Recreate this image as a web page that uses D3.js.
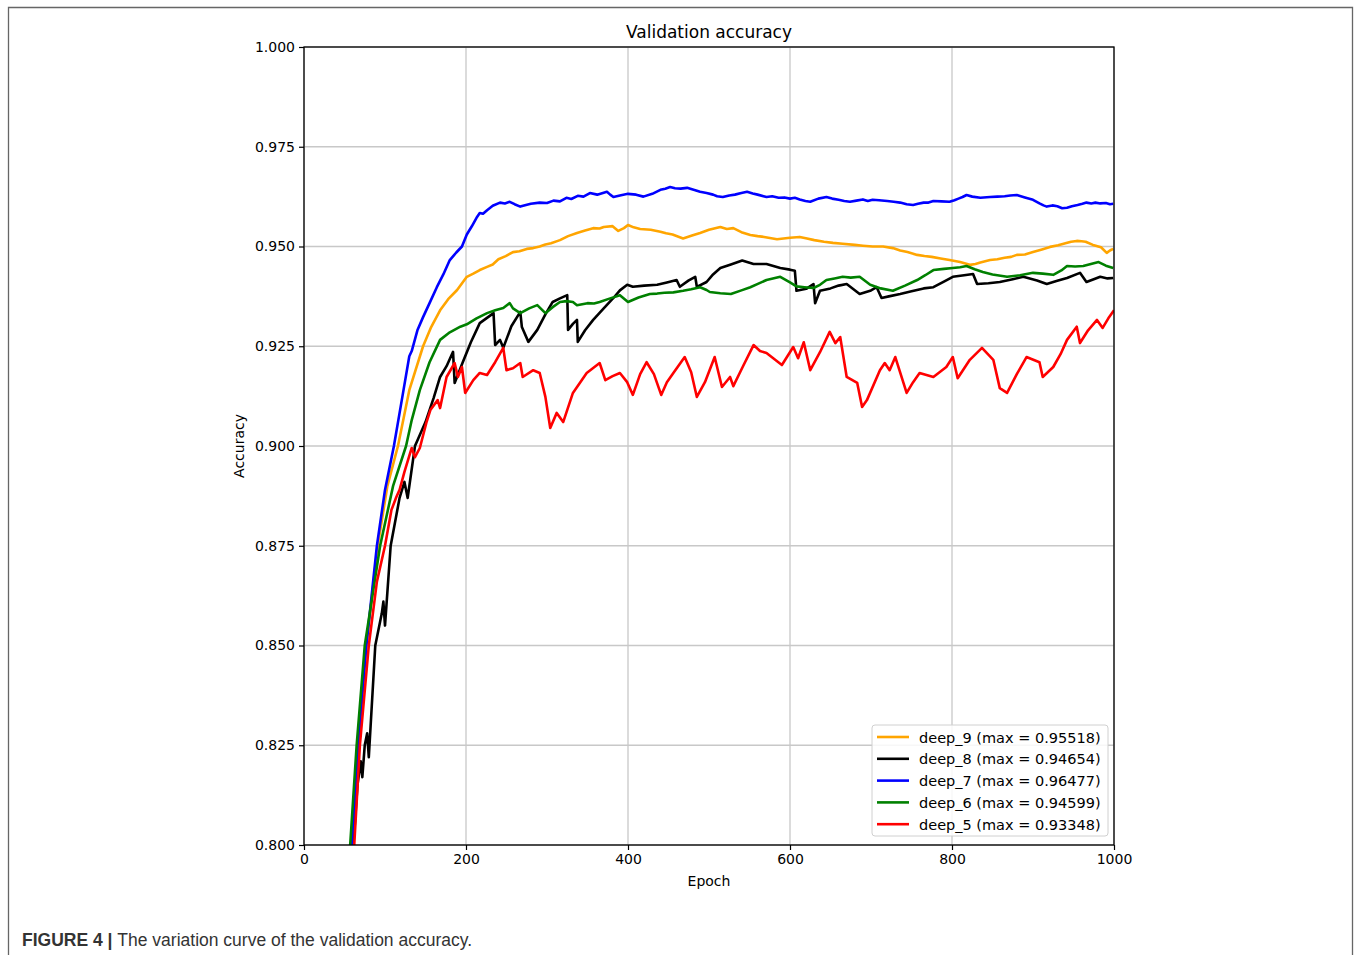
<!DOCTYPE html>
<html>
<head>
<meta charset="utf-8">
<script src="https://cdn.jsdelivr.net/npm/d3@7"></script>
<style>
  body { margin: 0; background: #fff; }
  svg text { font-family: "DejaVu Sans", sans-serif; }
</style>
</head>
<body>
<svg id="chart" width="1360" height="955"></svg>
<script>
// [epoch, accuracy]
const deep9 = [[55,0.795],[58,0.80],[66,0.825],[77,0.85],[91,0.875],[103,0.89],[116,0.9],[130,0.914],[147,0.925],[157,0.9298],[168,0.934],[178,0.9368],[189,0.9391],[201,0.9424],[209,0.9432],[217,0.9441],[226,0.9449],[233,0.9455],[240,0.9468],[249,0.9476],[258,0.9486],[266,0.9488],[275,0.9494],[283,0.9496],[291,0.950],[298,0.9505],[305,0.9508],[316,0.9516],[326,0.9526],[337,0.9534],[347,0.954],[357,0.9546],[365,0.9545],[370,0.9549],[381,0.9551],[388,0.9539],[395,0.9546],[400,0.9554],[407,0.9548],[415,0.9544],[428,0.9542],[440,0.9537],[447,0.9533],[455,0.953],[468,0.952],[480,0.9528],[489,0.9534],[500,0.9542],[514,0.9549],[522,0.9544],[530,0.9546],[540,0.9536],[551,0.9529],[560,0.9526],[568,0.9524],[584,0.9518],[600,0.9522],[612,0.9524],[621,0.952],[630,0.9516],[642,0.9512],[653,0.9509],[665,0.9507],[680,0.9504],[690,0.9502],[702,0.950],[715,0.95],[727,0.9496],[736,0.949],[745,0.9486],[757,0.9479],[766,0.9476],[775,0.9474],[786,0.947],[797,0.9466],[810,0.9461],[822,0.9454],[829,0.9456],[835,0.946],[847,0.9466],[856,0.9468],[865,0.9472],[873,0.9474],[880,0.9479],[890,0.948],[900,0.9486],[910,0.9492],[921,0.9499],[931,0.9503],[940,0.9508],[947,0.9512],[954,0.9514],[960,0.9513],[965,0.9512],[974,0.9504],[984,0.9498],[991,0.9484],[995,0.949],[999,0.9494]];

const deep8 = [[58,0.795],[61,0.80],[66,0.815],[70,0.821],[72,0.817],[75,0.825],[78,0.828],[80,0.822],[88,0.85],[96,0.858],[98,0.861],[100,0.855],[107,0.875],[118,0.887],[124,0.891],[128,0.887],[137,0.9],[150,0.906],[160,0.912],[168,0.9173],[176,0.920],[184,0.9236],[186,0.9158],[196,0.921],[206,0.926],[217,0.9308],[234,0.9333],[236,0.9253],[242,0.9266],[246,0.9246],[256,0.930],[267,0.9336],[269,0.9298],[277,0.9261],[288,0.9291],[298,0.933],[307,0.9361],[316,0.937],[325,0.9378],[326,0.9291],[332,0.9306],[337,0.9316],[338,0.9261],[347,0.929],[357,0.9316],[370,0.9345],[382,0.9371],[390,0.939],[399,0.9404],[406,0.9399],[420,0.9402],[436,0.9404],[448,0.941],[460,0.9416],[464,0.9399],[475,0.9415],[483,0.9424],[485,0.9399],[497,0.9411],[505,0.943],[514,0.9446],[527,0.9455],[541,0.9465],[555,0.9456],[571,0.9456],[588,0.9446],[600,0.9442],[606,0.9439],[608,0.9389],[620,0.9394],[629,0.9406],[631,0.9358],[637,0.9389],[650,0.9395],[660,0.9402],[670,0.9406],[686,0.9381],[700,0.939],[707,0.9398],[713,0.9371],[722,0.9375],[736,0.9381],[750,0.9388],[765,0.9395],[777,0.9398],[790,0.9412],[801,0.9424],[815,0.9428],[826,0.9431],[831,0.9406],[845,0.9408],[859,0.9411],[875,0.9418],[888,0.9424],[905,0.9415],[917,0.9406],[930,0.9414],[942,0.9421],[958,0.9434],[966,0.9411],[975,0.9418],[983,0.9424],[992,0.942],[999,0.9421]];

const deep7 = [[56,0.795],[59,0.80],[67,0.825],[77,0.85],[90,0.875],[100,0.889],[111,0.9],[122,0.913],[130,0.9225],[133,0.9238],[140,0.929],[147,0.9323],[155,0.9358],[164,0.9398],[172,0.943],[180,0.9466],[188,0.9485],[195,0.950],[201,0.953],[207,0.955],[213,0.9572],[217,0.9584],[221,0.9582],[226,0.9591],[233,0.9602],[242,0.961],[248,0.9608],[254,0.9612],[260,0.9606],[267,0.960],[274,0.9604],[280,0.9607],[291,0.961],[300,0.9609],[308,0.9615],[316,0.9613],[324,0.9622],[330,0.9619],[338,0.9627],[345,0.9625],[353,0.9634],[362,0.963],[374,0.9637],[378,0.963],[382,0.9624],[390,0.9628],[400,0.9632],[410,0.963],[419,0.9625],[430,0.9632],[440,0.9642],[446,0.9645],[452,0.9649],[458,0.9646],[465,0.9645],[473,0.9647],[481,0.9642],[489,0.9637],[497,0.9634],[505,0.963],[510,0.9626],[517,0.9624],[525,0.9628],[532,0.963],[540,0.9634],[547,0.9637],[554,0.9633],[560,0.963],[571,0.9624],[578,0.9626],[586,0.9622],[593,0.9623],[600,0.962],[606,0.9622],[612,0.9618],[619,0.9614],[625,0.9612],[635,0.962],[645,0.9624],[652,0.962],[660,0.9617],[667,0.9614],[674,0.9612],[682,0.9615],[690,0.9618],[696,0.9614],[702,0.9617],[710,0.9616],[720,0.9614],[728,0.9612],[736,0.961],[744,0.9606],[752,0.9604],[758,0.9607],[765,0.961],[771,0.961],[777,0.9614],[787,0.9613],[797,0.9612],[803,0.9616],[808,0.962],[813,0.9624],[818,0.9629],[825,0.9625],[835,0.9622],[847,0.9624],[856,0.9625],[865,0.9626],[872,0.9628],[880,0.9629],[885,0.9626],[890,0.9623],[900,0.9617],[908,0.9608],[913,0.9603],[917,0.960],[924,0.9603],[930,0.9601],[936,0.9596],[942,0.9597],[948,0.9601],[955,0.9604],[961,0.9607],[966,0.961],[972,0.9608],[977,0.961],[983,0.9608],[990,0.9609],[995,0.9606],[999,0.9607]];

const deep6 = [[54,0.795],[57,0.80],[65,0.825],[75,0.85],[94,0.875],[110,0.89],[126,0.9],[133,0.9065],[143,0.914],[155,0.921],[168,0.9266],[180,0.9285],[193,0.9299],[201,0.9305],[213,0.932],[226,0.9333],[236,0.934],[246,0.9346],[254,0.9358],[258,0.9345],[267,0.9333],[278,0.9345],[288,0.9353],[298,0.9333],[307,0.9348],[316,0.9361],[324,0.9363],[332,0.9361],[337,0.9353],[350,0.9358],[358,0.9357],[365,0.9361],[378,0.937],[390,0.9378],[400,0.9361],[413,0.9372],[427,0.9381],[436,0.9382],[445,0.9384],[456,0.9385],[468,0.9389],[478,0.9393],[489,0.9398],[497,0.9391],[501,0.9386],[514,0.9383],[527,0.9381],[540,0.939],[551,0.9398],[561,0.9407],[571,0.9416],[588,0.9424],[600,0.941],[608,0.94],[618,0.9398],[629,0.9396],[637,0.9404],[645,0.9416],[655,0.942],[665,0.9424],[675,0.9422],[686,0.9424],[699,0.9404],[712,0.9395],[727,0.9389],[742,0.9402],[757,0.9416],[767,0.9428],[777,0.9441],[790,0.9444],[801,0.9446],[810,0.9448],[818,0.9451],[828,0.9443],[838,0.9436],[850,0.943],[868,0.9424],[884,0.9428],[900,0.9434],[912,0.9432],[925,0.9429],[935,0.944],[942,0.9451],[952,0.945],[962,0.9451],[975,0.9458],[981,0.9461],[990,0.9452],[999,0.9446]];

const deep5 = [[59,0.795],[62,0.80],[69,0.825],[80,0.85],[90,0.866],[100,0.875],[108,0.884],[114,0.8872],[118,0.889],[124,0.8935],[131,0.8982],[133,0.8995],[137,0.8972],[143,0.8995],[151,0.9058],[156,0.909],[165,0.9115],[168,0.9095],[176,0.9173],[186,0.9208],[190,0.9173],[195,0.9198],[199,0.9133],[209,0.9165],[217,0.9183],[226,0.9178],[236,0.921],[246,0.9246],[250,0.919],[258,0.9195],[267,0.9208],[270,0.9173],[283,0.919],[291,0.9183],[298,0.9123],[304,0.9045],[312,0.9083],[320,0.906],[332,0.9133],[349,0.9183],[365,0.9208],[372,0.9165],[381,0.9175],[390,0.9183],[399,0.916],[406,0.9128],[415,0.918],[423,0.921],[432,0.918],[441,0.9128],[448,0.916],[456,0.9183],[470,0.9223],[478,0.9185],[485,0.9123],[495,0.916],[507,0.9223],[516,0.9148],[526,0.9173],[530,0.915],[542,0.92],[555,0.9253],[563,0.9238],[571,0.9233],[590,0.9203],[604,0.9248],[610,0.922],[617,0.926],[625,0.919],[637,0.9235],[649,0.9286],[656,0.9258],[662,0.9273],[670,0.9173],[683,0.9158],[689,0.9098],[695,0.9115],[711,0.919],[717,0.9208],[723,0.919],[730,0.9223],[744,0.9133],[752,0.916],[760,0.9183],[777,0.9173],[793,0.9198],[801,0.9223],[807,0.917],[822,0.9216],[837,0.9246],[851,0.9216],[859,0.9145],[868,0.9133],[880,0.918],[892,0.9223],[908,0.921],[912,0.9173],[925,0.9198],[934,0.923],[942,0.9266],[954,0.9299],[958,0.9258],[968,0.929],[979,0.9316],[986,0.9296],[993,0.932],[1000,0.934]];

const seriesNames = ["deep_9 (max = 0.95518)", "deep_8 (max = 0.94654)", "deep_7 (max = 0.96477)", "deep_6 (max = 0.94599)", "deep_5 (max = 0.93348)"];
const seriesData = [deep9, deep8, deep7, deep6, deep5];
const seriesColors = ["#FFA500", "#000000", "#0000FF", "#008000", "#FF0000"];
const xTicks = [0, 200, 400, 600, 800, 1000];
const yTicks = [0.800, 0.825, 0.850, 0.875, 0.900, 0.925, 0.950, 0.975, 1.000];

const svg = d3.select("#chart");
const margin = { top: 47, right: 246, bottom: 110, left: 304 };
const innerWidth = 1360 - margin.left - margin.right;
const innerHeight = 955 - margin.top - margin.bottom;

// figure frame
svg.append("path")
  .attr("d", "M8.5,960 L8.5,7.5 L1352.5,7.5 L1352.5,960")
  .attr("fill", "none")
  .attr("stroke", "#666")
  .attr("stroke-width", 1.3);

const xScale = d3.scaleLinear().domain([0, 1000]).range([0, innerWidth]);
const yScale = d3.scaleLinear().domain([0.8, 1.0]).range([innerHeight, 0]);

const g = svg.append("g").attr("transform", `translate(${margin.left}, ${margin.top})`);

// grid
g.append("g")
  .selectAll("line")
  .data(xTicks)
  .enter()
  .append("line")
  .attr("x1", d => xScale(d)).attr("x2", d => xScale(d))
  .attr("y1", 0).attr("y2", innerHeight)
  .attr("stroke", "#c8c8c8").attr("stroke-width", 1.3);
g.append("g")
  .selectAll("line")
  .data(yTicks)
  .enter()
  .append("line")
  .attr("x1", 0).attr("x2", innerWidth)
  .attr("y1", d => yScale(d)).attr("y2", d => yScale(d))
  .attr("stroke", "#c8c8c8").attr("stroke-width", 1.3);

g.append("clipPath").attr("id", "clip")
  .append("rect").attr("width", innerWidth).attr("height", innerHeight);

const line = d3.line()
  .x(d => xScale(d[0]))
  .y(d => yScale(d[1]));

g.append("g").attr("clip-path", "url(#clip)")
  .selectAll("path")
  .data(seriesData)
  .enter()
  .append("path")
  .attr("d", d => line(d))
  .attr("fill", "none")
  .attr("stroke", (d, i) => seriesColors[i])
  .attr("stroke-width", 2.6)
  .attr("stroke-linejoin", "round");

// axes
const xAxis = d3.axisBottom(xScale).tickValues(xTicks).tickFormat(d3.format("d")).tickSize(5).tickPadding(4);
const yAxis = d3.axisLeft(yScale).tickValues(yTicks).tickFormat(d3.format(".3f")).tickSize(5).tickPadding(4);

const xAxisG = g.append("g").attr("transform", `translate(0, ${innerHeight})`).call(xAxis);
const yAxisG = g.append("g").call(yAxis);
[xAxisG, yAxisG].forEach(a => {
  a.attr("font-size", 14).attr("font-family", "DejaVu Sans");
  a.select(".domain").remove();
  a.selectAll(".tick line").attr("stroke", "#000").attr("stroke-width", 1.2);
  a.selectAll(".tick text").attr("fill", "#000");
});

g.append("rect")
  .attr("width", innerWidth).attr("height", innerHeight)
  .attr("fill", "none").attr("stroke", "#000").attr("stroke-width", 1.3);

// titles
svg.append("text")
  .attr("x", margin.left + innerWidth / 2).attr("y", 38)
  .attr("text-anchor", "middle")
  .style("font-size", "17px")
  .text("Validation accuracy");
svg.append("text")
  .attr("x", margin.left + innerWidth / 2).attr("y", 886)
  .attr("text-anchor", "middle")
  .style("font-size", "14px")
  .text("Epoch");
svg.append("text")
  .attr("transform", `translate(244, ${margin.top + innerHeight / 2}) rotate(-90)`)
  .attr("text-anchor", "middle")
  .style("font-size", "14px")
  .text("Accuracy");

// legend
const legend = g.append("g").attr("transform", `translate(${xScale(1000) - 242}, ${yScale(0.8) - 120})`);
legend.append("rect")
  .attr("width", 236).attr("height", 111).attr("rx", 3)
  .attr("fill", "#fff").attr("fill-opacity", 0.85)
  .attr("stroke", "#d0d0d0").attr("stroke-width", 1);
const items = legend.selectAll("g.item")
  .data(seriesNames)
  .enter()
  .append("g")
  .attr("transform", (d, i) => `translate(0, ${12 + i * 21.8})`);
items.append("line")
  .attr("x1", 5).attr("x2", 37)
  .attr("stroke", (d, i) => seriesColors[i])
  .attr("stroke-width", 2.6);
items.append("text")
  .attr("x", 47).attr("y", 5.5)
  .style("font-size", "14.5px")
  .text(d => d);

// caption
const cap = svg.append("text")
  .attr("x", 22).attr("y", 946)
  .style("font-family", "Liberation Sans, Arial, sans-serif")
  .style("font-size", "17.5px")
  .attr("fill", "#333");
cap.append("tspan").style("font-weight", "bold").text("FIGURE 4 | ");
cap.append("tspan").text("The variation curve of the validation accuracy.");
</script>
</body>
</html>
